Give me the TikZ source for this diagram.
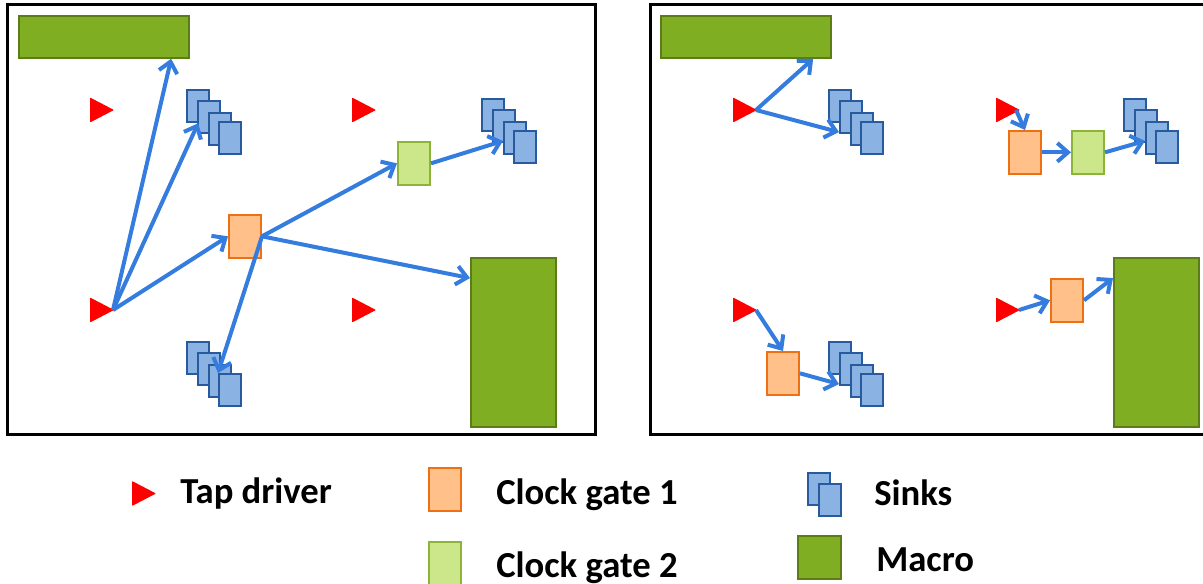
\documentclass[tikz,border=0pt]{standalone}
\usepackage{fontspec}
\setmainfont{Carlito}
\usetikzlibrary{arrows.meta,calc}

\definecolor{tapred}{RGB}{255,0,0}
\definecolor{wire}{RGB}{52,124,222}
\definecolor{macrofill}{RGB}{127,174,34}
\definecolor{macroline}{RGB}{92,124,24}
\definecolor{cgafill}{RGB}{255,192,138}
\definecolor{cgaline}{RGB}{238,112,20}
\definecolor{cgbfill}{RGB}{204,231,138}
\definecolor{cgbline}{RGB}{140,180,56}
\definecolor{sinkfill}{RGB}{138,179,228}
\definecolor{sinkline}{RGB}{40,90,158}

\tikzset{
  frame/.style={draw=black, line width=2.25pt},
  macro/.style={draw=macroline, fill=macrofill, line width=1.3pt, inner sep=0pt, anchor=north west},
  cga/.style={draw=cgaline, fill=cgafill, line width=1.5pt, inner sep=0pt, anchor=north west,
    minimum width=24pt, minimum height=32pt},
  cgb/.style={draw=cgbline, fill=cgbfill, line width=1.5pt, inner sep=0pt, anchor=north west,
    minimum width=24pt, minimum height=32pt},
  sink/.style={draw=sinkline, fill=sinkfill, line width=1.7pt, inner sep=0pt, anchor=north west,
    minimum width=16.5pt, minimum height=24pt},
  wirearrow/.style={draw=wire, line width=3pt,
    -{Straight Barb[length=8pt,width=14pt,line width=3pt]}},
  legendtext/.style={anchor=base west, inner sep=0pt,
    font=\fontsize{27.5pt}{32pt}\selectfont\bfseries},
}

% tap driver: filled triangle, left edge at x, centre at y; named coordinate at its tip
\newcommand\tapdrv[3]{%
  \fill[tapred, rounded corners=0.6pt] (#2,{#3-12.5}) -- ({#2+24},#3) -- (#2,{#3+12.5}) -- cycle;
  \coordinate (#1) at ({#2+23},#3);}

% stack of four sinks, top-left corner of the first one at (x,y)
\newcommand\sinkstack[3]{%
  \node[sink] (#1a) at (#2,#3) {};
  \node[sink] (#1b) at ({#2+11},{#3+11}) {};
  \node[sink] (#1c) at ({#2+22},{#3+23}) {};
  \node[sink] (#1d) at ({#2+32},{#3+32}) {};}

\begin{document}
\begin{tikzpicture}[x=0.75pt, y=-0.75pt]
  \useasboundingbox (0,0) rectangle (1203,584);
  \clip (0,0) rectangle (1203,584);

  % placement regions
  \draw[frame] (7.5,4.5) rectangle (595.5,435);
  \draw[frame] (650.5,4.5) rectangle (1220,435);

  % ---------- left region ----------
  \node[macro, minimum width=127.5pt, minimum height=31.5pt] (mtl) at (18,15) {};
  \node[macro, minimum width=63.75pt, minimum height=126.75pt] (mrl) at (470,257) {};
  \tapdrv{tl1}{90}{110}
  \tapdrv{tl2}{352}{110}
  \tapdrv{tl3}{90}{310}
  \tapdrv{tl4}{352}{310}
  \sinkstack{sa}{186}{89}
  \sinkstack{sb}{481}{98}
  \sinkstack{sc}{186}{341}
  \node[cga] (cgl) at (228,214) {};
  \node[cgb] (cgl2) at (397,141) {};

  \draw[wirearrow] (tl3) -- (mtl.342);
  \draw[wirearrow] (tl3) -- (saa.south);
  \draw[wirearrow] (tl3) -- (cgl.west);
  \draw[wirearrow] (cgl.east) -- (cgl2.west);
  \draw[wirearrow] (cgl.east) -- (mrl.124);
  \draw[wirearrow] (cgl.east) -- (scd.north west);
  \draw[wirearrow] (cgl2.east) -- (sbc.193);

  % ---------- right region ----------
  \node[macro, minimum width=127.5pt, minimum height=31.5pt] (mtr) at (660,15) {};
  \node[macro, minimum width=63.75pt, minimum height=126.75pt] (mrr) at (1113,257) {};
  \tapdrv{tr1}{733}{110}
  \tapdrv{tr2}{996}{110}
  \tapdrv{tr3}{733}{310}
  \tapdrv{tr4}{996}{310}
  \sinkstack{ra}{828}{89}
  \sinkstack{rb}{1123}{98}
  \sinkstack{rc}{828}{341}
  \node[cga] (cgr1) at (1008,130) {};
  \node[cgb] (cgr2) at (1071,130) {};
  \node[cga] (cgr3) at (766,351) {};
  \node[cga] (cgr4) at (1050,278) {};

  \draw[wirearrow] (tr1) -- (mtr.342);
  \draw[wirearrow] (tr1) -- (rab.231);
  \draw[wirearrow] ($(tr2)+(-3,0)$) -- (cgr1.north);
  \draw[wirearrow] (cgr1.east) -- (cgr2.west);
  \draw[wirearrow] (cgr2.east) -- (rbc.193);
  \draw[wirearrow] (tr3) -- (cgr3.north);
  \draw[wirearrow] (cgr3.east) -- (rcb.231);
  \draw[wirearrow] (tr4) -- (cgr4.west);
  \draw[wirearrow] (cgr4.east) -- (mrr.124);

  % ---------- legend ----------
  \tapdrv{ltap}{132}{493.5}
  \node[legendtext] (ltapt) at (180,503) {Tap driver};
  \node[cga] (lcga) at (428,467) {};
  \node[legendtext] (lcgat) at (496,504) {Clock gate 1};
  \node[cgb] (lcgb) at (428,541) {};
  \node[legendtext] (lcgbt) at (496,577) {Clock gate 2};
  \node[sink] (lsa) at (807,472) {};
  \node[sink] (lsb) at (818,483) {};
  \node[legendtext] (lsinkt) at (874,505) {Sinks};
  \node[macro, minimum width=32.25pt, minimum height=32.25pt] (lmac) at (797,535) {};
  \node[legendtext] (lmact) at (876,571) {Macro};
\end{tikzpicture}
\end{document}
